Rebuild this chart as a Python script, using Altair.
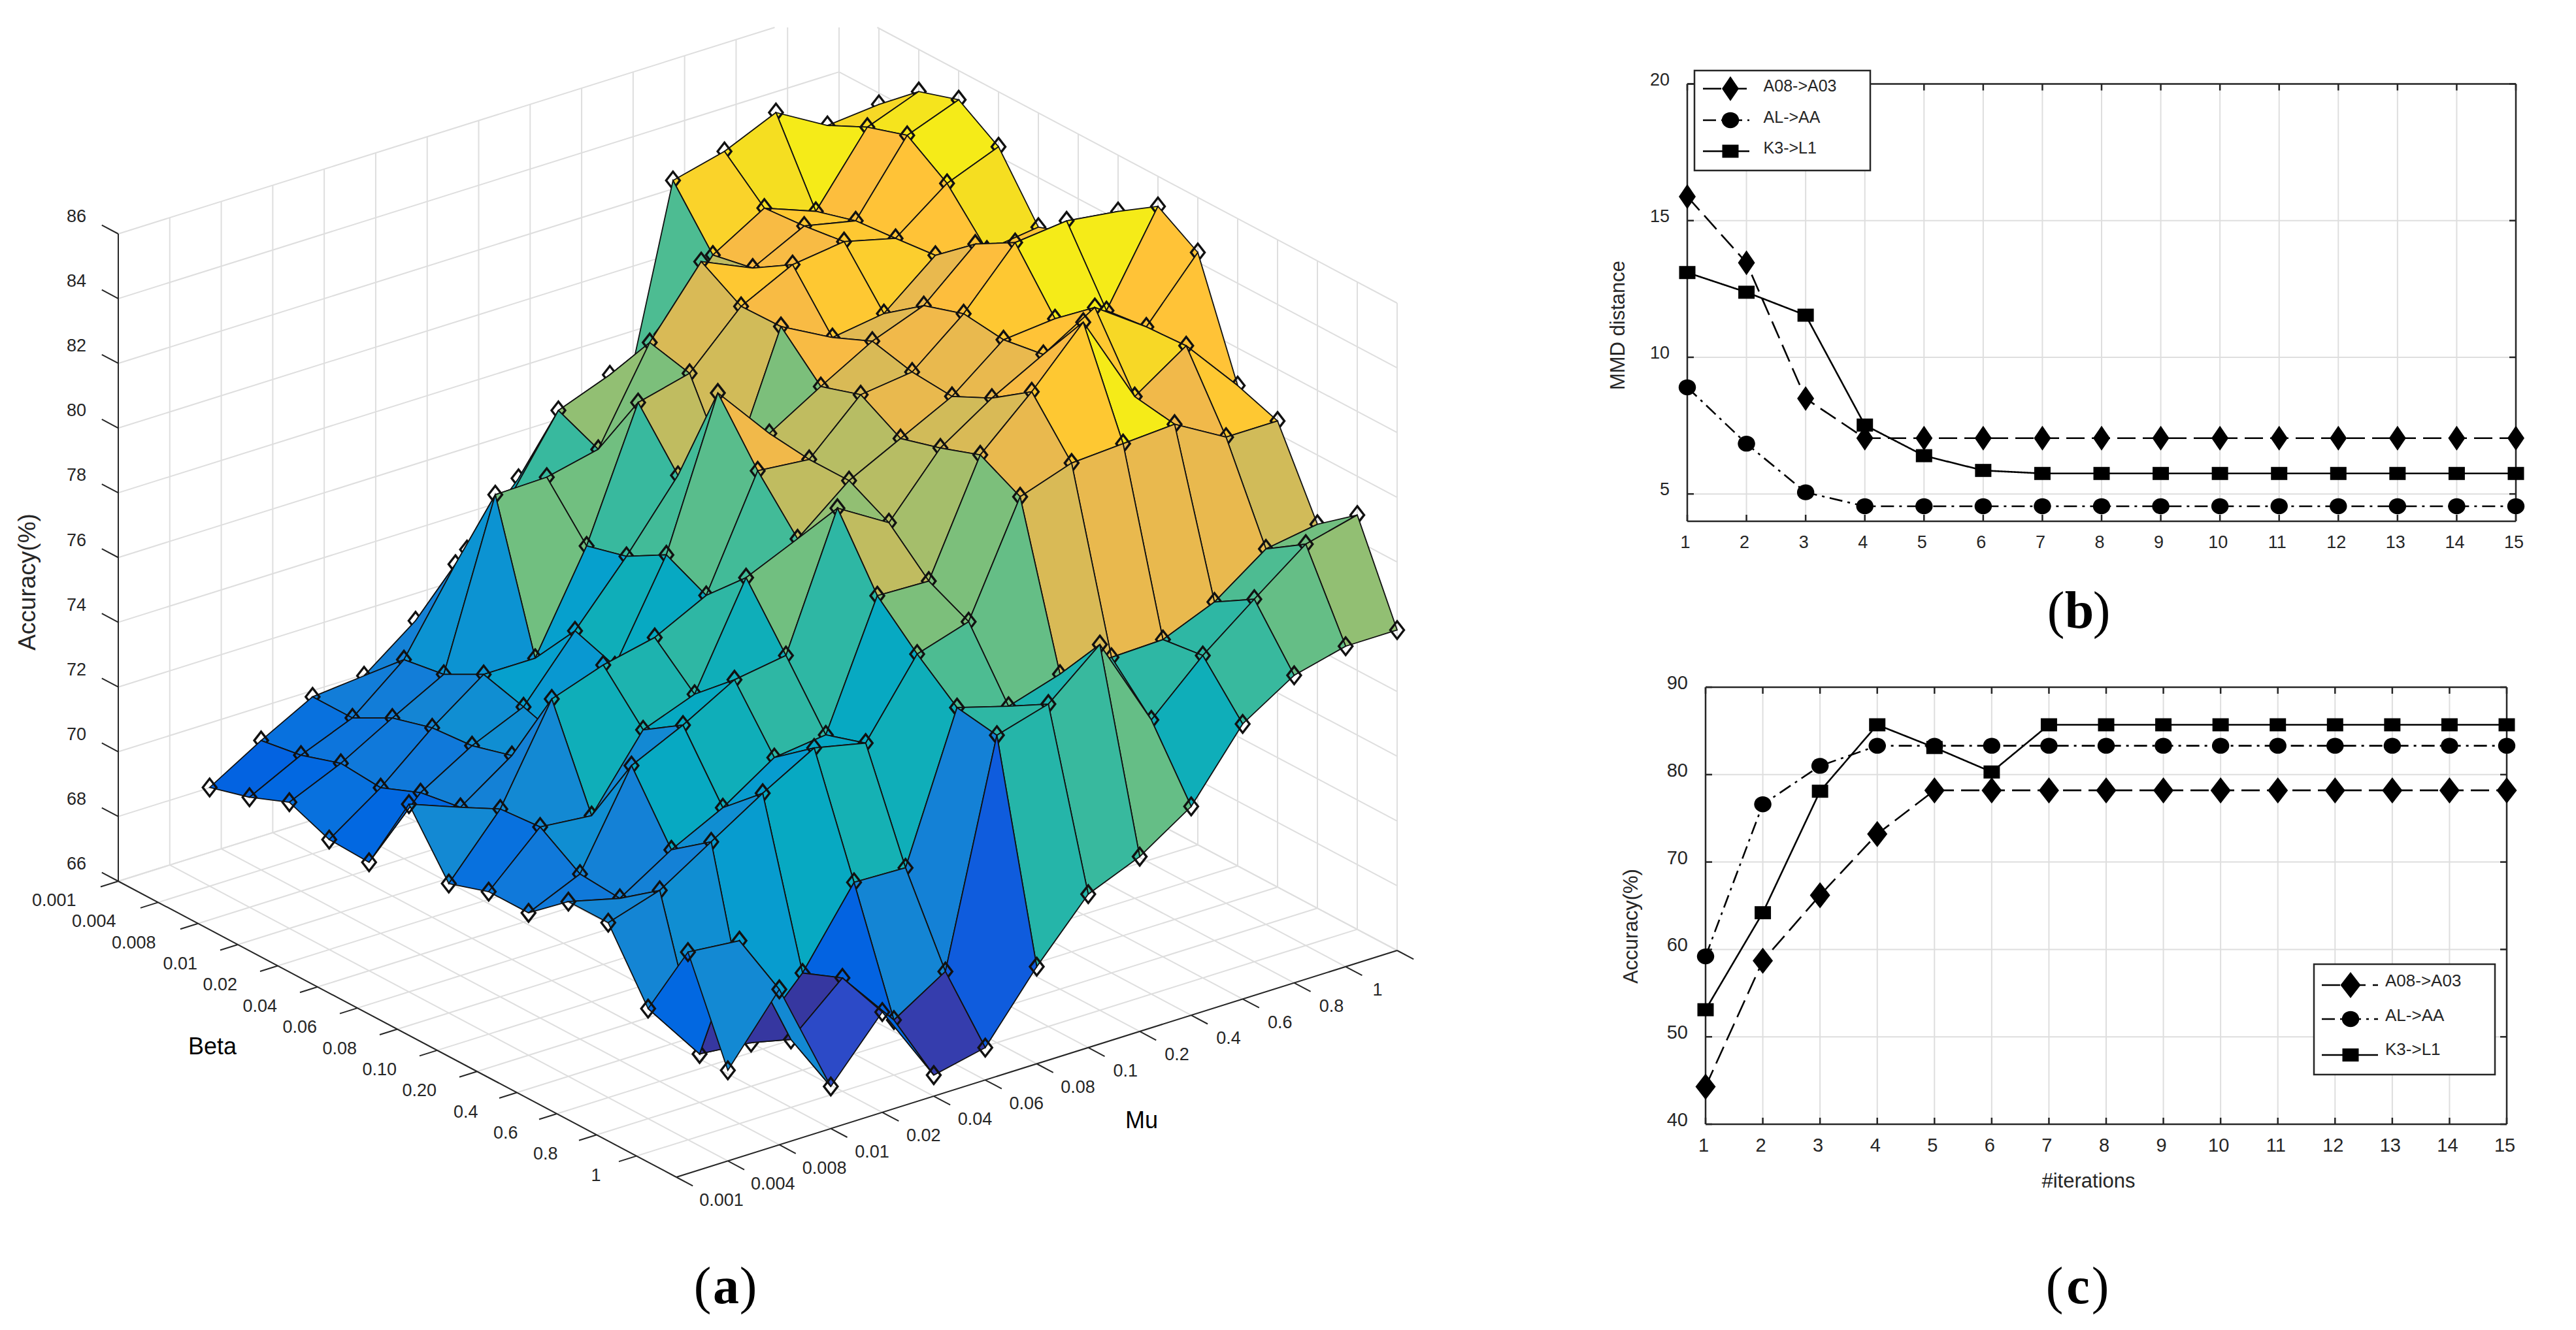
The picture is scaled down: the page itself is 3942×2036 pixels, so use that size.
import altair as alt
import pandas as pd

# ---------- panel (a) data ----------
BETA_LABELS = ["0.001","0.004","0.008","0.01","0.02","0.04","0.06","0.08","0.10","0.20","0.4","0.6","0.8","1"]
MU_LABELS = ["0.001","0.004","0.008","0.01","0.02","0.04","0.06","0.08","0.1","0.2","0.4","0.6","0.8","1"]
Z_TICKS = [66,68,70,72,74,76,78,80,82,84,86]
Z_ROW_00 = [69.05,70.0,70.85,71.0,72.2,73.9,75.6,77.0,76.5,83.3,83.7,84.4,83.5,83.65]
Z_ROW_01 = [69.4,70.2,70.85,72.15,74.6,76.0,78.35,78.95,79.7,81.65,82.6,82.0,84.1,84.7]
Z_ROW_02 = [69.9,70.6,71.5,72.35,77.4,77.44,77.8,80.6,82.6,81.9,82.7,82.36,84.5,85.1]
Z_ROW_03 = [69.4,70.5,71.85,73.0,73.0,75.97,79.9,80.3,81.87,82.66,82.87,82.47,83.67,84.3]
Z_ROW_04 = [69.35,71.0,71.95,72.65,74.5,76.3,78.3,77.75,81.9,81.06,81.3,82.6,82.26,82.47]
Z_ROW_05 = [71.8,71.2,72.3,72.25,74.07,77.0,81.5,79.75,80.7,81.6,82.2,83.6,82.9,82.9]
Z_ROW_06 = [70.0,71.8,74.7,75.25,75.6,76.4,79.75,79.6,81.1,81.3,82.6,84.3,84.47,84.26]
Z_ROW_07 = [70.4,71.9,71.75,73.9,74.5,77.6,78.3,79.6,80.4,81.2,82.45,82.6,82.35,85.07]
Z_ROW_08 = [70.4,71.1,73.95,74.7,75.6,75.85,79.9,78.95,80.76,81.8,82.65,83.6,82.5,84.3]
Z_ROW_09 = [71.4,71.0,72.0,72.8,73.85,74.05,77.85,77.8,81.2,82.65,84.3,81.5,82.57,80.84]
Z_ROW_10 = [71.4,71.9,72.9,73.9,74.8,74.45,76.7,77.2,80.56,81.1,81.2,81.3,80.4,80.4]
Z_ROW_11 = [69.4,67.5,67.35,69.0,71.3,71.25,75.7,75.24,75.73,75.75,75.8,76.46,77.6,77.86]
Z_ROW_12 = [71.8,71.65,68.1,69.5,67.7,68.7,75.5,75.96,77.3,74.47,75.96,77.2,78.4,78.8]
Z_ROW_13 = [68.8,70.8,67.3,69.1,66.65,67.0,69.0,70.74,71.4,72.45,74.5,75.5,75.9,75.9]
Z = [Z_ROW_00,Z_ROW_01,Z_ROW_02,Z_ROW_03,Z_ROW_04,Z_ROW_05,Z_ROW_06,
     Z_ROW_07,Z_ROW_08,Z_ROW_09,Z_ROW_10,Z_ROW_11,Z_ROW_12,Z_ROW_13]

PARULA = [
 (.2081,.1663,.5292),(.2116,.1898,.5777),(.2123,.2138,.6270),(.2081,.2386,.6771),(.1959,.2645,.7279),
 (.1707,.2919,.7792),(.1253,.3242,.8303),(.0591,.3598,.8683),(.0117,.3875,.8820),(.0060,.4086,.8828),
 (.0165,.4266,.8786),(.0329,.4430,.8720),(.0498,.4586,.8641),(.0629,.4737,.8554),(.0723,.4887,.8467),
 (.0779,.5040,.8384),(.0794,.5200,.8312),(.0749,.5375,.8263),(.0641,.5570,.8240),(.0488,.5772,.8228),
 (.0343,.5966,.8199),(.0265,.6137,.8135),(.0239,.6287,.8038),(.0231,.6418,.7913),(.0228,.6535,.7768),
 (.0267,.6642,.7607),(.0384,.6743,.7436),(.0590,.6838,.7254),(.0843,.6928,.7062),(.1133,.7015,.6859),
 (.1453,.7098,.6646),(.1801,.7177,.6424),(.2178,.7250,.6193),(.2586,.7317,.5954),(.3022,.7376,.5712),
 (.3482,.7424,.5473),(.3953,.7459,.5244),(.4420,.7481,.5033),(.4871,.7491,.4840),(.5300,.7491,.4661),
 (.5709,.7485,.4494),(.6099,.7473,.4337),(.6473,.7456,.4188),(.6834,.7435,.4044),(.7184,.7411,.3905),
 (.7525,.7384,.3768),(.7858,.7356,.3633),(.8185,.7327,.3498),(.8507,.7299,.3360),(.8824,.7274,.3217),
 (.9139,.7258,.3063),(.9450,.7261,.2886),(.9739,.7314,.2666),(.9938,.7455,.2403),(.9990,.7653,.2164),
 (.9955,.7861,.1967),(.9880,.8066,.1794),(.9789,.8271,.1633),(.9697,.8481,.1475),(.9626,.8705,.1309),
 (.9589,.8949,.1132),(.9598,.9218,.0948),(.9661,.9514,.0755),(.9763,.9831,.0538)]

# ---------- panels (b), (c) data ----------
ITER = list(range(1, 16))
B_A08 = [15.88,13.46,8.49] + [7.04]*12
B_AL = [8.9,6.84,5.06] + [4.55]*12
B_K3 = [13.1,12.38,11.54,7.52,6.4,5.86] + [5.75]*9
C_A08 = [44.3,58.7,66.2,73.2] + [78.2]*11
C_AL = [59.2,76.6,81.0] + [83.3]*12
C_K3 = [53.1,64.2,78.1,85.7,83.1,80.3] + [85.7]*9
SERIES = ["A08->A03", "AL->AA", "K3->L1"]

FONT = "Liberation Sans"
INK = "#262626"
GRID = "#dedede"

# ---------- panel (a) projection ----------
ORIGIN = (181.0, 1349.0)
BETA_VEC = (854.0, 453.0)
MU_VEC = (1103.0, -347.0)
PX_PER_Z = 49.55
TOP_CUT = 42.0
PAGE = 8.0


def project(u, v, z):
    x = ORIGIN[0] + BETA_VEC[0]*u + MU_VEC[0]*v
    y = ORIGIN[1] + BETA_VEC[1]*u + MU_VEC[1]*v - PX_PER_Z*(z-66)
    return x, y


def page(p):
    return [p[0]-PAGE, p[1]-PAGE]


def cut_top(a, b):
    if a[1] >= TOP_CUT and b[1] >= TOP_CUT:
        return a, b
    if a[1] < TOP_CUT:
        a, b = b, a
    t = (a[1]-TOP_CUT)/(a[1]-b[1])
    return a, (a[0]+(b[0]-a[0])*t, TOP_CUT)


def line_feature(a, b, stroke, width):
    a, b = cut_top(a, b)
    return {"type": "Feature",
            "geometry": {"type": "LineString", "coordinates": [page(a), page(b)]},
            "properties": {"fill": "none", "stroke": stroke, "sw": width}}


def poly_feature(pts, fill, stroke, width):
    ring = [page(p) for p in pts]
    ring.append(ring[0])
    return {"type": "Feature",
            "geometry": {"type": "Polygon", "coordinates": [ring]},
            "properties": {"fill": fill, "stroke": stroke, "sw": width}}


def parula(z, lo, hi):
    idx = min(63, int((z-lo)/(hi-lo)*64))
    r, g, b = PARULA[idx]
    return "#%02x%02x%02x" % (round(r*255), round(g*255), round(b*255))


N = 14
features = []
# walls and floor
for k in range(N+1):
    f = k/N
    features.append(line_feature(project(f,0,66), project(f,1,66), GRID, 2))      # floor, beta lines
    features.append(line_feature(project(0,f,66), project(1,f,66), GRID, 2))      # floor, mu lines
    features.append(line_feature(project(0,f,66), project(0,f,86), GRID, 2))      # left wall
    features.append(line_feature(project(f,1,66), project(f,1,86), GRID, 2))      # right wall
for zt in Z_TICKS:
    features.append(line_feature(project(0,0,zt), project(0,1,zt), GRID, 2))
    features.append(line_feature(project(0,1,zt), project(1,1,zt), GRID, 2))

# axes
TICK = 0.0295
features.append(line_feature(project(0,0,66), project(0,0,86), INK, 2))
features.append(line_feature(project(0,0,66), project(1,0,66), INK, 2))
features.append(line_feature(project(1,0,66), project(1,1,66), INK, 2))
for zt in Z_TICKS:
    features.append(line_feature(project(0,0,zt), project(-TICK,0,zt), INK, 2))
for k in range(N):
    features.append(line_feature(project(k/N,0,66), project(k/N,-0.0245,66), INK, 2))
for k in range(N+1):
    features.append(line_feature(project(1,k/N,66), project(1+TICK,k/N,66), INK, 2))

# surface, back to front
z_lo = min(min(r) for r in Z)
z_hi = max(max(r) for r in Z)
items = []
DW, DH = 10.5, 13.5
for i in range(N):
    for j in range(N):
        ui, vj = (i+1)/N, (j+1)/N
        if i < N-1 and j < N-1:
            pts = [project((i+1)/N, (j+1)/N, Z[i][j]),
                   project((i+2)/N, (j+1)/N, Z[i+1][j]),
                   project((i+2)/N, (j+2)/N, Z[i+1][j+1]),
                   project((i+1)/N, (j+2)/N, Z[i][j+1])]
            items.append((i-j, 0, poly_feature(pts, parula(Z[i][j], z_lo, z_hi), "#111111", 1.8)))
        cx, cy = project(ui, vj, Z[i][j])
        dia = [(cx, cy-DH), (cx+DW, cy), (cx, cy+DH), (cx-DW, cy)]
        items.append((i-j, 1, poly_feature(dia, "none", "#111111", 3.4)))
items.sort(key=lambda t: (t[0], t[1]))
features.extend(t[2] for t in items)

surface = alt.Chart(alt.Data(values=features)).mark_geoshape().encode(
    fill=alt.Fill("properties.fill:N", scale=None),
    stroke=alt.Stroke("properties.stroke:N", scale=None),
    strokeWidth=alt.StrokeWidth("properties.sw:Q", scale=None),
).project(type="identity", scale=1, translate=[0, 0])

# tick labels
rows_r = []
for zt in Z_TICKS:
    x, y = project(0, 0, zt)
    rows_r.append({"x": x-49-PAGE, "y": y-26-PAGE, "t": str(zt)})
for k, lab in enumerate(BETA_LABELS):
    x, y = project(k/N, 0, 66)
    rows_r.append({"x": x-(52+2.5*len(lab))-PAGE, "y": y+30-PAGE, "t": lab})
rows_l = []
for k, lab in enumerate(MU_LABELS):
    x, y = project(1, (k+1)/N, 66)
    x0, y0 = project(0, (k+1)/N, 66)
    x1 = x0 + BETA_VEC[0]
    rows_l.append({"x": x1-(36+1.5*len(lab))-PAGE, "y": y+61-PAGE, "t": lab})

px = alt.X("x:Q", scale=None, axis=None)
py = alt.Y("y:Q", scale=None, axis=None)
labels_r = alt.Chart(pd.DataFrame(rows_r)).mark_text(
    align="right", baseline="middle", font=FONT, fontSize=27, color=INK
).encode(x=px, y=py, text="t:N")
labels_l = alt.Chart(pd.DataFrame(rows_l)).mark_text(
    align="left", baseline="middle", font=FONT, fontSize=27, color=INK
).encode(x=px, y=py, text="t:N")


def free_text(txt, x, y, size, angle=0, align="center", baseline="middle", font=FONT, weight="normal", color=INK):
    return alt.Chart(pd.DataFrame({"t": [txt]})).mark_text(
        align=align, baseline=baseline, font=font, fontSize=size, angle=angle,
        fontWeight=weight, color=color
    ).encode(x=alt.value(x), y=alt.value(y), text="t:N")


def panel_letter(letter, cx, base):
    return [free_text("(", cx-36, base, 80, align="center", baseline="alphabetic", font="Liberation Serif", color="black"),
            free_text(letter, cx, base, 80, align="center", baseline="alphabetic", font="Liberation Serif", weight="bold", color="black"),
            free_text(")", cx+34, base, 80, align="center", baseline="alphabetic", font="Liberation Serif", color="black")]


left = alt.layer(
    surface, labels_r, labels_l,
    free_text("Accuracy(%)", 43-PAGE, 891-PAGE, 37, angle=270),
    free_text("Beta", 325-PAGE, 1603-PAGE, 36, color="black"),
    free_text("Mu", 1747-PAGE, 1716-PAGE, 36, color="black"),
    *panel_letter("a", 1111-PAGE, 1995-PAGE),
).properties(width=2500, height=2020)

# ---------- line panels ----------
SHAPE_CIRCLE = "M-1,0A1,0.92,0,1,1,1,0A1,0.92,0,1,1,-1,0Z"
SHAPE_SQUARE = "M-1,-0.8L1,-0.8L1,0.8L-1,0.8Z"
DASHES = [[28, 11], [20, 8, 4, 8], [1, 0]]


def line_panel(series, view_w, view_h, x0, x1, y0, y1, ydom, yticks, diamond, dsize, fs, box, rows, lab_x, sym_x, line_x, lab_size, title, title_xy, xtitle=None, lw=2.6):
    xs = alt.Scale(domain=[1, 15], range=[x0, x1])
    ys = alt.Scale(domain=ydom, range=[y1, y0])
    vdf = pd.DataFrame({"it": ITER, "a": ydom[0], "b": ydom[1]})
    hdf = pd.DataFrame({"v": yticks, "a": 1, "b": 15})
    layers = [
        alt.Chart(vdf).mark_rule(color=GRID, strokeWidth=2).encode(
            x=alt.X("it:Q", scale=xs, axis=None), y=alt.Y("a:Q", scale=ys, axis=None), y2="b:Q"),
        alt.Chart(hdf).mark_rule(color=GRID, strokeWidth=2).encode(
            y=alt.Y("v:Q", scale=ys, axis=None), x=alt.X("a:Q", scale=xs, axis=None), x2="b:Q"),
    ]
    # tick labels
    layers.append(alt.Chart(vdf).mark_text(font=FONT, fontSize=fs, color=INK, baseline="middle", dx=-3).encode(
        x=alt.X("it:Q", scale=xs, axis=None), y=alt.value(y1+33), text="it:Q"))
    layers.append(alt.Chart(hdf).mark_text(font=FONT, fontSize=fs, color=INK, baseline="middle", align="right", dy=-6).encode(
        y=alt.Y("v:Q", scale=ys, axis=None), x=alt.value(x0-27), text="v:Q"))
    # frame
    frame_v = pd.DataFrame({"it": [1, 15], "a": ydom[0], "b": ydom[1]})
    frame_h = pd.DataFrame({"v": ydom, "a": 1, "b": 15})
    layers.append(alt.Chart(frame_v).mark_rule(color=INK, strokeWidth=2.5).encode(
        x=alt.X("it:Q", scale=xs, axis=None), y=alt.Y("a:Q", scale=ys, axis=None), y2="b:Q"))
    layers.append(alt.Chart(frame_h).mark_rule(color=INK, strokeWidth=2.5).encode(
        y=alt.Y("v:Q", scale=ys, axis=None), x=alt.X("a:Q", scale=xs, axis=None), x2="b:Q"))
    # inner ticks
    tick_len = 10
    xt = pd.DataFrame({"it": ITER})
    yt = pd.DataFrame({"v": yticks})
    for a, b in [(y1, y1-tick_len), (y0, y0+tick_len)]:
        layers.append(alt.Chart(xt).mark_rule(color=INK, strokeWidth=2.5).encode(
            x=alt.X("it:Q", scale=xs, axis=None), y=alt.value(a), y2=alt.value(b)))
    for a, b in [(x0, x0+tick_len), (x1, x1-tick_len)]:
        layers.append(alt.Chart(yt).mark_rule(color=INK, strokeWidth=2.5).encode(
            y=alt.Y("v:Q", scale=ys, axis=None), x=alt.value(a), x2=alt.value(b)))
    # series
    shapes = [diamond, SHAPE_CIRCLE, SHAPE_SQUARE]
    sizes = [dsize, 700, 625]
    for vals, dash, shp, sz in zip(series, DASHES, shapes, sizes):
        df = pd.DataFrame({"it": ITER, "v": vals})
        enc = dict(x=alt.X("it:Q", scale=xs, axis=None), y=alt.Y("v:Q", scale=ys, axis=None))
        layers.append(alt.Chart(df).mark_line(color="black", strokeWidth=lw, strokeDash=dash).encode(**enc))
        layers.append(alt.Chart(df).mark_point(shape=shp, filled=True, color="black", opacity=1, size=sz).encode(**enc))
    # legend
    bx0, by0, bx1, by1 = box
    layers.append(alt.Chart(pd.DataFrame({"k": [0]})).mark_rect(
        fill="white", stroke=INK, strokeWidth=2.5).encode(
        x=alt.value(bx0), x2=alt.value(bx1), y=alt.value(by0), y2=alt.value(by1)))
    for name, dash, shp, sz, (sy, ty) in zip(SERIES, DASHES, shapes, sizes, rows):
        layers.append(alt.Chart(pd.DataFrame({"k": [0]})).mark_rule(color="black", strokeWidth=lw, strokeDash=dash).encode(
            x=alt.value(line_x[0]), x2=alt.value(line_x[1]), y=alt.value(sy)))
        layers.append(alt.Chart(pd.DataFrame({"k": [0]})).mark_point(shape=shp, filled=True, color="black", opacity=1, size=sz).encode(
            x=alt.value(sym_x), y=alt.value(sy)))
        layers.append(free_text(name, lab_x, ty, lab_size, align="left"))
    layers.append(free_text(title, title_xy[0], title_xy[1], 31, angle=270))
    if xtitle:
        layers.append(free_text(xtitle[0], xtitle[1], xtitle[2], 31))
    return layers


OX, OYB = 2582.0, 8.0
SPACING = 100.0
VIEW_B_H = 790.0
OYC = OYB + VIEW_B_H + SPACING
VIEW_C_H = 1721.0 - OYC

b_layers = line_panel(
    [B_A08, B_AL, B_K3], 1268, VIEW_B_H, 0, 1268, 128.5-OYB, VIEW_B_H, [4, 20], [5, 10, 15, 20],
    "M0,-1.46L1,0L0,1.46L-1,0Z", 676, 27,
    (2593-OX, 108-OYB, 2862-OX, 261-OYB),
    [(135.8-OYB, 131.5-OYB), (184-OYB, 180-OYB), (231.5-OYB, 226.7-OYB)],
    2698.6-OX, 2648-OX, (2606-OX, 2677-OX), 25,
    "MMD distance", (2477-OX, 498-OYB))
b_layers += panel_letter("b", 3182-OX, 961-OYB)
b = alt.layer(*b_layers).properties(width=1268, height=VIEW_B_H)

c_layers = line_panel(
    [C_A08, C_AL, C_K3], 1268, VIEW_C_H, 2610-OX, 3836-OX, 1052-OYC, VIEW_C_H, [40, 90], [40, 50, 60, 70, 80, 90],
    "M0,-1.29L1,0L0,1.29L-1,0Z", 961, 29,
    (3541-OX, 1476-OYC, 3818-OX, 1645-OYC),
    [(1508-OYC, 1502-OYC), (1560-OYC, 1555-OYC), (1615-OYC, 1607-OYC)],
    3650-OX, 3597-OX, (3553-OX, 3639-OX), 26,
    "Accuracy(%)", (2497-OX, 1418-OYC),
    xtitle=("#iterations", 3196-OX, 1809-OYC))
c_layers += panel_letter("c", 3180-OX, 1995-OYC)
c = alt.layer(*c_layers).properties(width=1268, height=VIEW_C_H)

right = alt.vconcat(b, c, spacing=SPACING, bounds="flush")
chart = alt.hconcat(left, right, spacing=74, bounds="flush").properties(
    padding=0, background="white"
).configure_view(stroke=None)

chart.save("out.html", embed_options={"renderer": "svg", "actions": False})
